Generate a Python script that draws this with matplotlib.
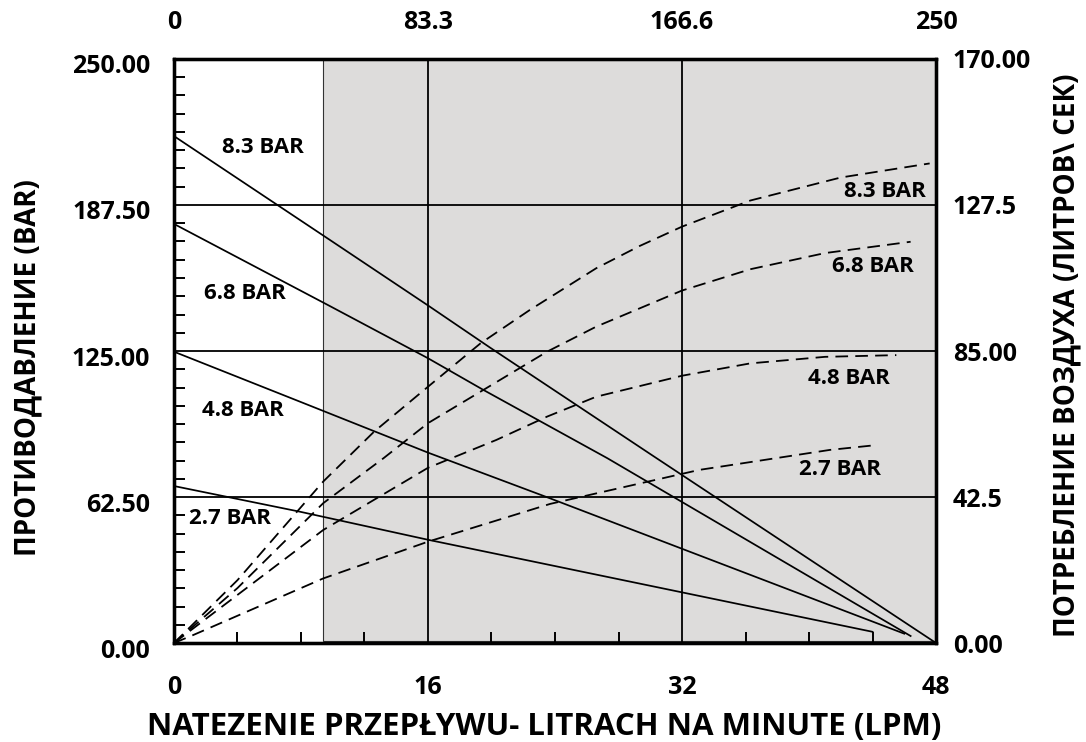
import numpy as np
import matplotlib
matplotlib.use('Agg')
import matplotlib.pyplot as plt
from matplotlib.ticker import MultipleLocator
import matplotlib.transforms as mtransforms

plt.rcParams.update({'font.family': ['Open Sans', 'DejaVu Sans'],
                     'font.weight': 'bold',
                     'axes.unicode_minus': False})

# pressure (solid) lines, left axis in BAR, x in LPM
p83_x = [0, 9.83, 16, 19.9, 30.2, 48]
p83_y = [217, 172.5, 144.5, 126.5, 80, 0]
p68_x = [0, 9.83, 16, 19.5, 27.3, 46.4]
p68_y = [179.4, 144.2, 121.9, 108.3, 79.1, 3]
p48_x = [0, 7.94, 16, 23.7, 46.0]
p48_y = [124.7, 103.3, 81.5, 61.9, 4]
p27_x = [0, 7.94, 16, 44.0]
p27_y = [67.2, 56.2, 44.2, 4.8]

# air consumption (dashed) curves, right axis in litres/sec
a83_x = [0, 4, 9.4, 12.6, 16, 19.3, 22.4, 26.6, 29.3, 32, 36.3, 42, 47.6]
a83_y = [0, 18.3, 47, 61.5, 74.6, 87.2, 96.9, 109.1, 115.5, 121.2, 128.8, 135.5, 139.6]
a68_x = [0, 4, 9.4, 13.2, 16, 19.5, 23.5, 26.6, 32, 36.3, 41, 46.4]
a68_y = [0, 16, 40.7, 53.8, 64.0, 73.7, 84.8, 92.1, 102.6, 108.8, 113.5, 116.8]
a48_x = [0, 4, 9.4, 16, 20.3, 23.5, 26.6, 32, 36.3, 41, 45.5]
a48_y = [0, 14, 32.9, 51, 59.1, 65.9, 71.7, 77.8, 81.4, 83.3, 83.8]
a27_x = [0, 1.2, 9.4, 16, 23.7, 33.1, 41.3, 44]
a27_y = [0, 2.3, 18.8, 29.5, 40.5, 50.4, 56.2, 57.5]

bottom_ticks = [0, 16, 32, 48]
top_labels = ['0', '83.3', '166.6', '250']
left_ticks = [0, 62.5, 125, 187.5, 250]
left_labels = ['0.00', '62.50', '125.00', '187.50', '250.00']
right_ticks = [0, 42.5, 85, 127.5, 170]
right_labels = ['0.00', '42.5', '85.00', '127.5', '170.00']

bar_names = ['8.3 BAR', '6.8 BAR', '4.8 BAR', '2.7 BAR']
left_lab_pos = [(5.6, 212.3), (4.47, 149.8), (4.35, 99.7), (3.53, 53.5)]
right_lab_pos = [(44.8, 193.1), (44.0, 161.0), (42.5, 113.4), (41.95, 74.1)]

fig = plt.figure(figsize=(10.86, 7.42), dpi=100)
ax = fig.add_axes([0.1602, 0.1334, 0.7017, 0.7871])
ax.set_xlim(0, 48)
ax.set_ylim(0, 250)

# shaded operating range
ax.axvspan(9.4, 48, ymin=0.004, ymax=1, facecolor='#dddcdb', edgecolor='#333333', lw=0.8, zorder=0)

for v in [16, 32]:
    ax.axvline(v, color='black', lw=1.3, zorder=1)
for h in [62.5, 125, 187.5]:
    ax.axhline(h, color='black', lw=1.3, zorder=1)

for xs, ys in [(p83_x, p83_y), (p68_x, p68_y), (p48_x, p48_y), (p27_x, p27_y)]:
    ax.plot(xs, ys, color='black', lw=1.25, zorder=3)

ax2 = ax.twinx()
ax2.set_ylim(0, 170)
for xs, ys in [(a83_x, a83_y), (a68_x, a68_y), (a48_x, a48_y), (a27_x, a27_y)]:
    ax2.plot(xs, ys, color='black', lw=1.3, dashes=(7, 4), zorder=3)

for name, (x, y) in zip(bar_names, left_lab_pos):
    ax.text(x, y, name, fontsize=16, fontweight='bold', ha='center', va='center', zorder=4)
for name, (x, y) in zip(bar_names, right_lab_pos):
    ax.text(x, y, name, fontsize=16, fontweight='bold', ha='center', va='center', zorder=4)

# left axis ticks
ax.set_yticks(left_ticks)
ax.set_yticklabels(left_labels)
ax.yaxis.set_minor_locator(MultipleLocator(7.8125))
ax.tick_params(axis='y', which='major', length=0, pad=17, labelsize=18)
ax.tick_params(axis='y', which='minor', direction='in', length=8, width=1.4)
off = mtransforms.ScaledTranslation(0, -5 / 100, fig.dpi_scale_trans)
for lab in ax.get_yticklabels():
    lab.set_transform(lab.get_transform() + off)

# bottom axis ticks
ax.set_xticks(bottom_ticks)
ax.set_xticklabels([str(t) for t in bottom_ticks])
ax.xaxis.set_minor_locator(MultipleLocator(4))
ax.tick_params(axis='x', which='major', length=0, pad=23, labelsize=18)
ax.tick_params(axis='x', which='minor', direction='in', length=8, width=1.4)

# right axis
ax2.set_yticks(right_ticks)
ax2.set_yticklabels(right_labels)
ax2.tick_params(axis='y', length=0, pad=12, labelsize=18)

# top axis
ax3 = ax.twiny()
ax3.set_xlim(0, 48)
ax3.set_xticks(bottom_ticks)
ax3.set_xticklabels(top_labels)
ax3.tick_params(axis='x', length=0, pad=17, labelsize=18)

for a in (ax, ax2, ax3):
    for s in a.spines.values():
        s.set_linewidth(2.3)

fig.text(0.501, 0.02, 'NATEZENIE PRZEPŁYWU- LITRACH NA MINUTE (LPM)',
         fontsize=22.5, fontweight='bold', ha='center', va='center')
fig.text(0.026, 0.504, 'ПРОТИВОДАВЛЕНИЕ (BAR)', rotation=90,
         fontsize=20, fontweight='bold', ha='center', va='center')
fig.text(0.982, 0.521, 'ПОТРЕБЛЕНИЕ ВОЗДУХА (ЛИТРОВ\\ СЕК)', rotation=90,
         fontsize=20, fontweight='bold', ha='center', va='center')

fig.savefig('out.png', dpi=100)
